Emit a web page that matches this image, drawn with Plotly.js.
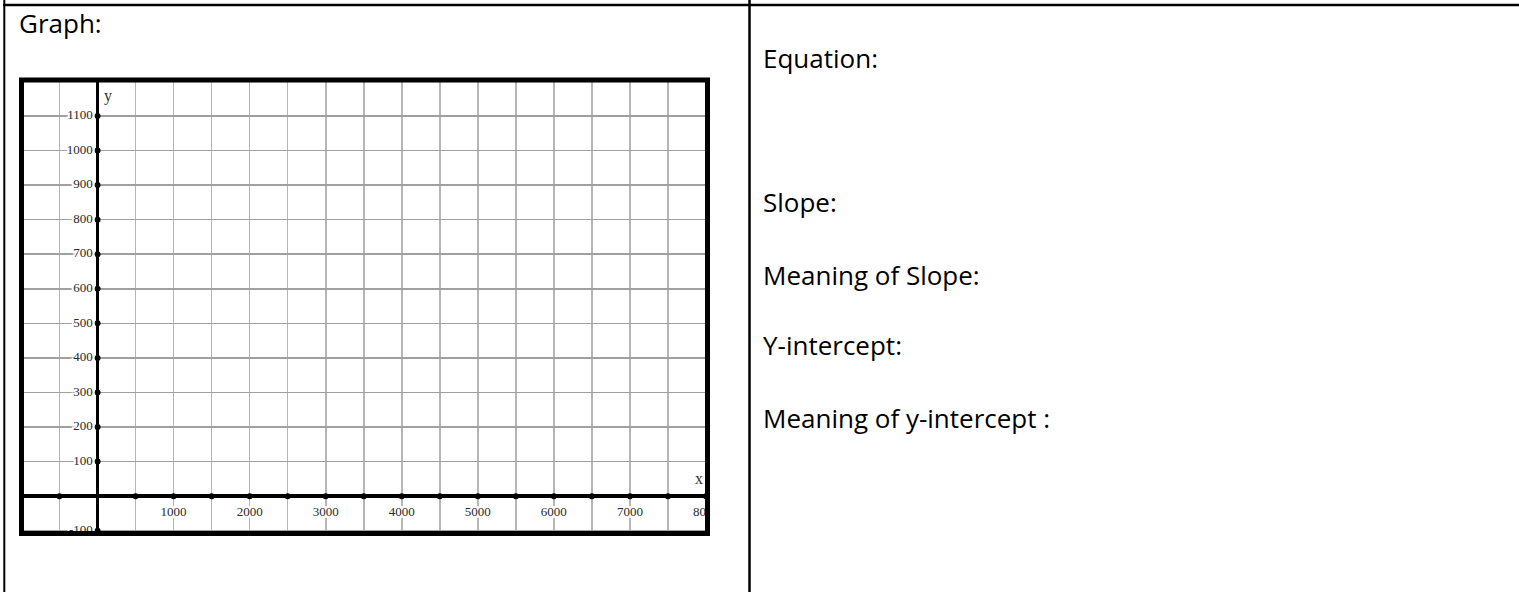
<!DOCTYPE html>
<html>
<head>
<meta charset="utf-8">
<title>Graph worksheet</title>
<script src="https://cdn.plot.ly/plotly-3.0.1.min.js"></script>
<style>
    html, body { margin: 0; padding: 0; background: #fff; }
    #chart { width: 1519px; height: 592px; }
</style>
</head>
<body>
<div id="chart"></div>
<script>
// axis dots and tick labels
const xDots = [-500, 500, 1000, 1500, 2000, 2500, 3000, 3500, 4000, 4500, 5000, 5500, 6000, 6500, 7000, 7500, 8000];
const xTickVals = [1000, 2000, 3000, 4000, 5000, 6000, 7000, 8000];
const xTickText = ['1000', '2000', '3000', '4000', '5000', '6000', '7000', '8000'];
const yDots = [-100, 100, 200, 300, 400, 500, 600, 700, 800, 900, 1000, 1100];
const yLabels = ['-100', '100', '200', '300', '400', '500', '600', '700', '800', '900', '1000', '1100'];

// worksheet prompts on the page
const prompts = ['Equation:', 'Slope:', 'Meaning of Slope:', 'Y-intercept:', 'Meaning of y-intercept :'];
const promptRows = [58, 202, 275, 345, 418];

const W = 1519, H = 592;
const px = v => v / W;
const py = v => 1 - v / H;

// white halo so the grid does not run through the numbers
const halo = ['2px 0', '-2px 0', '0 2px', '0 -2px', '2px 2px', '-2px -2px', '2px -2px', '-2px 2px']
    .map(o => 'white ' + o + ' 0').join(', ');

const tickFont = { family: 'Liberation Serif, Times New Roman, serif', size: 13, color: '#2b2b2b', shadow: halo };
const pageFont = { family: 'Open Sans', size: 26, color: '#000' };

const yTrace = {
    x: yDots.map(() => 0),
    y: yDots,
    type: 'scatter',
    mode: 'markers+text',
    text: yLabels,
    textposition: 'middle left',
    textfont: tickFont,
    marker: { color: '#000', size: 6 },
    hoverinfo: 'skip',
    showlegend: false
};

const xDotTrace = {
    x: xDots,
    y: xDots.map(() => 0),
    type: 'scatter',
    mode: 'markers',
    marker: { color: '#000', size: 6 },
    hoverinfo: 'skip',
    showlegend: false
};

// labels hang a little lower under the axis than the dots allow
const xLabelTrace = {
    x: xTickVals,
    y: xTickVals.map(() => 0),
    type: 'scatter',
    mode: 'markers+text',
    text: xTickText,
    textposition: 'bottom center',
    textfont: tickFont,
    marker: { color: 'rgba(0,0,0,0)', size: 15 },
    hoverinfo: 'skip',
    showlegend: false
};

const frame = { left: 21.5, right: 707.5, top: 80, bottom: 533.5 };

const annotations = [
    {
        xref: 'paper', yref: 'paper', x: px(17), y: py(22.5),
        xanchor: 'left', yanchor: 'middle', showarrow: false,
        text: 'Graph:', font: pageFont
    },
    {
        xref: 'x', yref: 'y domain', x: 0, y: 1, xanchor: 'left', yanchor: 'top',
        xshift: 4, yshift: -5, showarrow: false,
        text: 'y', font: { family: 'Liberation Serif', size: 16, color: '#333' }
    },
    {
        xref: 'x domain', yref: 'y', x: 1, y: 0, xanchor: 'right', yanchor: 'bottom',
        xshift: -3, yshift: 7, showarrow: false,
        text: 'x', font: { family: 'Liberation Serif', size: 16, color: '#333' }
    }
];

prompts.forEach((t, i) => {
    annotations.push({
        xref: 'paper', yref: 'paper', x: px(761), y: py(promptRows[i]),
        xanchor: 'left', yanchor: 'middle', showarrow: false,
        text: t, font: pageFont
    });
});

const shapes = [
    // table rules
    { type: 'line', xref: 'paper', yref: 'paper', x0: px(3), x1: 1, y0: py(5), y1: py(5), line: { color: '#000', width: 2.5 } },
    { type: 'line', xref: 'paper', yref: 'paper', x0: px(4.3), x1: px(4.3), y0: 0, y1: 1, line: { color: '#000', width: 2 } },
    { type: 'line', xref: 'paper', yref: 'paper', x0: px(749.5), x1: px(749.5), y0: 0, y1: 1, line: { color: '#000', width: 2.5 } },
    // picture frame
    {
        type: 'rect', xref: 'paper', yref: 'paper', layer: 'above',
        x0: px(frame.left), x1: px(frame.right), y0: py(frame.bottom), y1: py(frame.top),
        line: { color: '#000', width: 5 }, fillcolor: 'rgba(0,0,0,0)'
    }
];

const layout = {
    width: W,
    height: H,
    margin: { l: 0, r: 0, t: 0, b: 0 },
    paper_bgcolor: '#fff',
    plot_bgcolor: '#fff',
    showlegend: false,
    xaxis: {
        domain: [px(frame.left), px(frame.right)],
        range: [-1000, 8020],
        tick0: 0,
        dtick: 500,
        showticklabels: false,
        ticks: '',
        showline: false,
        showgrid: true,
        gridcolor: '#b5b5b5',
        gridwidth: 1.6,
        zeroline: true,
        zerolinecolor: '#000',
        zerolinewidth: 3,
        fixedrange: true
    },
    yaxis: {
        domain: [py(frame.bottom), py(frame.top)],
        range: [-108, 1204],
        tick0: 0,
        dtick: 100,
        showticklabels: false,
        ticks: '',
        showline: false,
        showgrid: true,
        gridcolor: '#a0a0a0',
        gridwidth: 1.6,
        zeroline: true,
        zerolinecolor: '#000',
        zerolinewidth: 4,
        fixedrange: true
    },
    annotations: annotations,
    shapes: shapes
};

Plotly.newPlot('chart', [xDotTrace, xLabelTrace, yTrace], layout, { displayModeBar: false, staticPlot: true });
</script>
</body>
</html>
